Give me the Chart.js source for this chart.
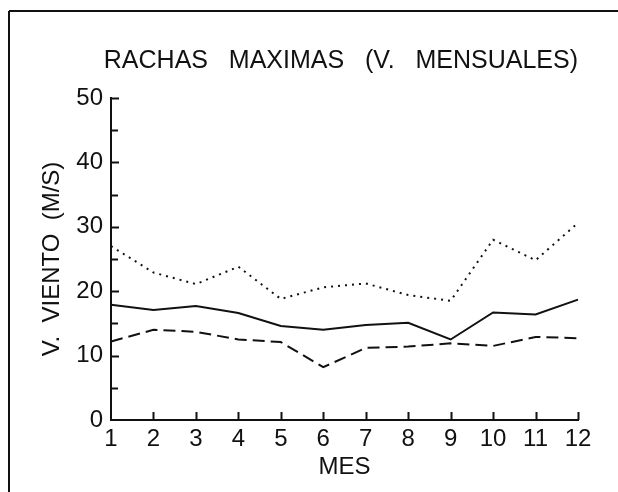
<!DOCTYPE html>
<html>
<head>
<meta charset="utf-8">
<script src="https://cdn.jsdelivr.net/npm/chart.js@4"></script>
<style>
  html, body { margin: 0; padding: 0; background: #fff; }
  #wrap { width: 618px; height: 492px; }
</style>
</head>
<body>
<div id="wrap"><canvas id="chart" width="618" height="492"></canvas></div>
<script>
const months = ['1', '2', '3', '4', '5', '6', '7', '8', '9', '10', '11', '12']
const rachaMedia = [17.9, 17.1, 17.7, 16.6, 14.6, 14.0, 14.75, 15.1, 12.5, 16.7, 16.4, 18.7]
const rachaMinima = [12.2, 14.0, 13.7, 12.5, 12.1, 8.2, 11.2, 11.4, 11.9, 11.5, 12.9, 12.7]
const rachaMaxima = [27.0, 22.9, 21.1, 23.8, 18.8, 20.6, 21.2, 19.4, 18.5, 28.0, 24.8, 30.6]
const yTicks = [0, 10, 20, 30, 40, 50]

const ink = '#111'
const font = 'Liberation Sans, Arial, sans-serif'

// frame lines and inward tick marks
const frameAndTicks = {
  id: 'frameAndTicks',
  afterDraw (chart) {
    const ctx = chart.ctx
    const x = chart.scales.x
    const y = chart.scales.y
    ctx.save()
    ctx.strokeStyle = ink
    ctx.lineWidth = 2
    ctx.beginPath()
    ctx.moveTo(9, 11)
    ctx.lineTo(618, 11)
    ctx.moveTo(9, 11)
    ctx.lineTo(9, 492)
    ctx.stroke()

    ctx.beginPath()
    for (let v = 5; v <= 50; v += 5) {
      const py = Math.round(y.getPixelForValue(v)) + 0.5
      const len = v % 10 === 0 ? 8 : 7
      ctx.moveTo(x.left, py)
      ctx.lineTo(x.left + len, py)
    }
    for (let i = 1; i < months.length; i++) {
      const px = Math.round(x.getPixelForValue(i)) + 0.5
      ctx.moveTo(px, y.bottom)
      ctx.lineTo(px, y.bottom - 8)
    }
    ctx.stroke()
    ctx.restore()
  }
}

new Chart(document.getElementById('chart'), {
  type: 'line',
  data: {
    labels: months,
    datasets: [
      {
        label: 'media',
        data: rachaMedia,
        borderColor: ink,
        borderWidth: 2,
        pointRadius: 0,
        tension: 0
      },
      {
        label: 'minima',
        data: rachaMinima,
        borderColor: ink,
        borderWidth: 2,
        borderDash: [12, 6],
        pointRadius: 0,
        tension: 0
      },
      {
        label: 'maxima',
        data: rachaMaxima,
        borderColor: ink,
        borderWidth: 2,
        borderDash: [2, 5],
        pointRadius: 0,
        tension: 0
      }
    ]
  },
  options: {
    responsive: false,
    animation: false,
    layout: { padding: { left: 30, right: 40, top: 0, bottom: 6 } },
    plugins: {
      legend: { display: false },
      tooltip: { enabled: false },
      title: {
        display: true,
        align: 'end',
        text: 'RACHAS   MAXIMAS   (V.   MENSUALES)',
        color: ink,
        font: { family: font, size: 25, weight: 'normal', lineHeight: 1.2 },
        padding: { top: 46, bottom: 22 }
      }
    },
    scales: {
      x: {
        offset: false,
        grid: { display: false, drawTicks: false },
        border: { display: true, color: ink, width: 2 },
        ticks: { color: ink, padding: 5, font: { family: font, size: 24 }, maxRotation: 0 },
        title: {
          display: true,
          text: 'MES',
          color: ink,
          font: { family: font, size: 24 },
          padding: { top: 2, bottom: 4 }
        },
        afterFit: (scale) => { scale.height = 66 }
      },
      y: {
        min: 0,
        max: 50,
        grid: { display: false, drawTicks: false },
        border: { display: true, color: ink, width: 2 },
        afterBuildTicks: (scale) => { scale.ticks = yTicks.map(v => ({ value: v })) },
        ticks: { color: ink, padding: 8, font: { family: font, size: 24 } },
        title: {
          display: true,
          text: 'V.  VIENTO  (M/S)',
          color: ink,
          font: { family: font, size: 24 },
          padding: { top: 8, bottom: 4 }
        },
        afterFit: (scale) => { scale.width = 81 }
      }
    }
  },
  plugins: [frameAndTicks]
})
</script>
</body>
</html>
